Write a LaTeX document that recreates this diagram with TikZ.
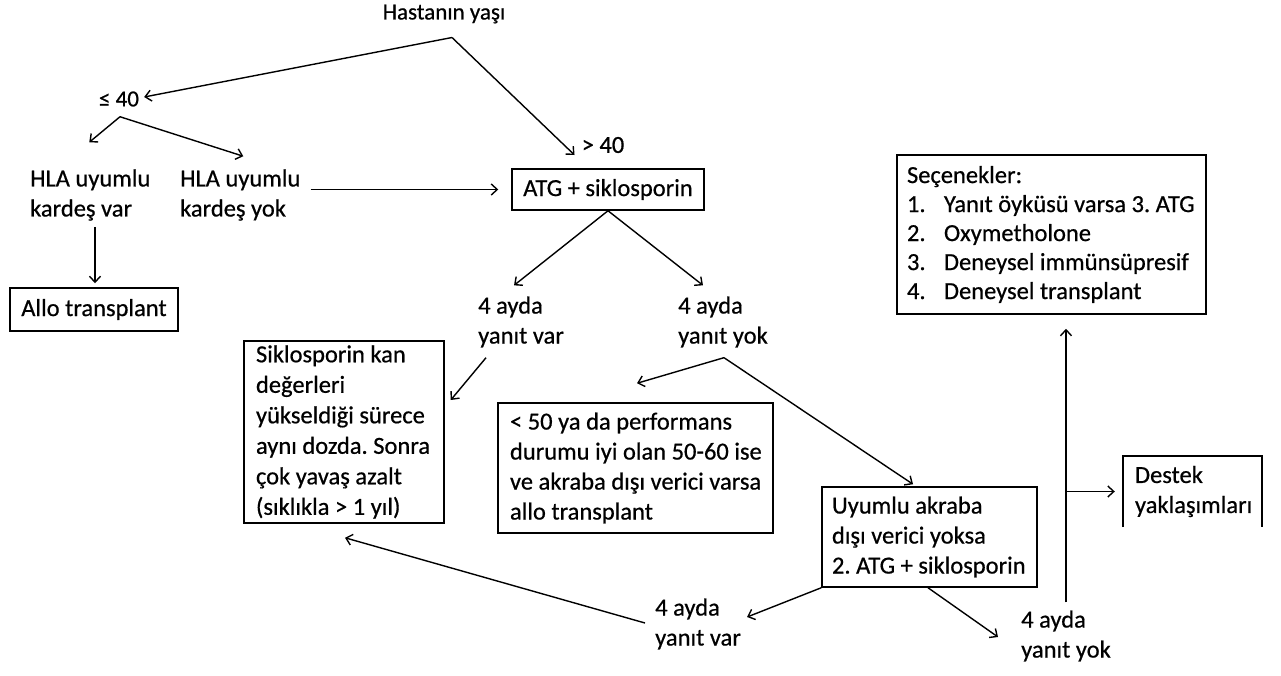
\documentclass[tikz,border=0pt]{standalone}
\usepackage{fontspec}
\setmainfont{Carlito}[FakeBold=0.6]
\usetikzlibrary{arrows.meta}
\frenchspacing
\begin{document}
\begin{tikzpicture}[x=1pt,y=-1pt,
  every node/.style={font=\fontsize{24.5}{30}\selectfont, inner sep=0pt},
  lbl/.style={align=left, anchor=west},
  box/.style={draw, line width=1.5pt},
  bt/.style={align=flush left},
  arr/.style={-{Straight Barb[length=6pt,width=11pt]}, line width=1.4pt}]
\useasboundingbox (0,0) rectangle (1281,675);

% plain labels
\node[font=\fontsize{23}{28}\selectfont] (hy) at (444,14) {Hastanın yaşı};
\node[font=\fontsize{23}{28}\selectfont] (le) at (119,99) {≤ 40};
\node (gt) at (603,145) {> 40};
\node[lbl] (hv) at (30,195) {HLA uyumlu\\kardeş var};
\node[lbl] (hn) at (180,195) {HLA uyumlu\\kardeş yok};
\node[lbl] (v1) at (478,322) {4 ayda\\yanıt var};
\node[lbl] (y1) at (678,322) {4 ayda\\yanıt yok};
\node[lbl] (v2) at (655,624) {4 ayda\\yanıt var};
\node[lbl] (y2) at (1021,636) {4 ayda\\yanıt yok};

% boxes
\node[box, minimum width=192pt, minimum height=41pt] (atg) at (608,189.5) {ATG + siklosporin};
\node[box, minimum width=168pt, minimum height=43pt] (allo) at (94,309.5) {Allo transplant};
\node[box, bt, minimum width=200pt, minimum height=182pt, inner xsep=12pt, text width=176pt,
      font=\fontsize{24.5}{30.5}\selectfont] (sik) at (344,432)
  {\mbox{Siklosporin kan}\\\mbox{değerleri}\\\mbox{yükseldiği sürece}\\\mbox{aynı dozda. Sonra}\\\mbox{çok yavaş azalt}\\\mbox{(sıklıkla > 1 yıl)}};
\node[box, bt, minimum width=275pt, minimum height=130pt, inner xsep=12pt, text width=251pt] (lt) at (635.5,468)
  {\mbox{< 50 ya da performans}\\\mbox{durumu iyi olan 50-60 ise}\\\mbox{ve akraba dışı verici varsa}\\\mbox{allo transplant}};
\node[box, bt, minimum width=215pt, minimum height=100pt, inner xsep=10pt, text width=195pt] (uy) at (929.5,537)
  {\mbox{Uyumlu akraba}\\\mbox{dışı verici yoksa}\\\mbox{2. ATG + siklosporin}};
\node[box, bt, minimum width=309pt, minimum height=159pt, inner xsep=10pt, text width=289pt,
      font=\fontsize{24.5}{29}\selectfont] (sec) at (1051.5,234.5)
  {\mbox{Seçenekler:}\\\mbox{\makebox[37pt][l]{1.}Yanıt öyküsü varsa 3. ATG}\\\mbox{\makebox[37pt][l]{2.}Oxymetholone}\\\mbox{\makebox[37pt][l]{3.}Deneysel immünsüpresif}\\\mbox{\makebox[37pt][l]{4.}Deneysel transplant}};
\node[bt, minimum width=139pt, minimum height=71pt, inner xsep=12pt, text width=115pt] (de) at (1192.5,491.5)
  {\mbox{Destek}\\\mbox{yaklaşımları}};
\draw[line width=1.5pt] (de.south west) -- (de.north west) -- (de.north east) -- (de.south east);

% connectors
\coordinate (hyf) at ([shift={(8,14)}]hy.south);
\draw[arr] (hyf) -- ([shift={(5,-2)}]le.east);
\draw[arr] (hyf) -- ([shift={(-7,10)}]gt.west);
\coordinate (lef) at ([shift={(1,10)}]le.south);
\draw[arr] (lef) -- ([shift={(-1,-27)}]hv.north);
\draw[arr] (lef) -- ([shift={(3,-13)}]hn.north);
\coordinate (ha) at ([yshift=-6pt]hv.south);
\draw[arr] ([xshift=1pt]allo.north |- ha) -- ([shift={(1,-4)}]allo.north);
\draw[arr] ([xshift=10pt]hn.east |- atg.west) -- ([xshift=-13pt]atg.west);
\draw[arr] (atg.south) -- ([shift={(-7,-11)}]v1.north);
\draw[arr] (atg.south) -- ([shift={(-20,-11)}]y1.north);
\draw[arr] ([shift={(-35,10)}]v1.south) -- ([shift={(6,-32)}]sik.east);
\coordinate (y1f) at ([shift={(1,10)}]y1.south);
\draw[arr] (y1f) -- ([shift={(1.5,-19)}]lt.north);
\draw[arr] (y1f) -- ([shift={(-16.5,-2)}]uy.north);
\draw[arr] (uy.south west) -- ([shift={(6,-7)}]v2.east);
\draw[arr] ([xshift=-1.5pt]uy.south) -- ([shift={(-23,1)}]y2.west);
\draw[arr] ([shift={(-10,-1)}]v2.west) -- ([shift={(1,14)}]sik.south);
\coordinate (vb) at ([yshift=8pt]y2.north);
\coordinate (vt) at (vb |- sec.south);
\coordinate (vj) at (vb |- de.west);
\draw[arr] (vb) -- ([yshift=-14pt]vt);
\draw[arr] (vj) -- ([xshift=-8pt]de.west);
\end{tikzpicture}
\end{document}
